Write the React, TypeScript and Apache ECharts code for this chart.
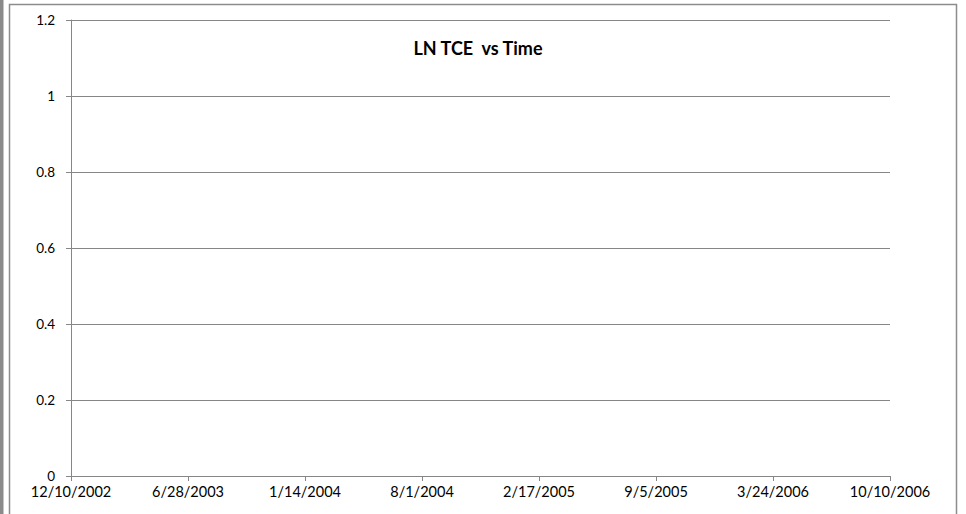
import React, { useEffect, useRef } from "react";
import * as echarts from "echarts";

const xLabels = [
  "12/10/2002",
  "6/28/2003",
  "1/14/2004",
  "8/1/2004",
  "2/17/2005",
  "9/5/2005",
  "3/24/2006",
  "10/10/2006",
];
const seriesValues: (number | null)[] = [null, null, null, null, null, null, null, null];
const yMin = 0;
const yMax = 1.2;
const yInterval = 0.2;
const titleText = "LN TCE  vs Time";

export default function App() {
  const ref = useRef<HTMLDivElement>(null);
  useEffect(() => {
    if (!ref.current) return;
    const chart = echarts.init(ref.current, undefined, { renderer: "svg" });
    const font = "Lato, 'Open Sans', 'Liberation Sans', sans-serif";
    chart.setOption({
      animation: false,
      backgroundColor: "#ffffff",
      title: {
        text: titleText,
        left: 473,
        top: 34,
        textAlign: "center",
        textStyle: { fontFamily: font, fontSize: 18, fontWeight: "bold", color: "#000" },
      },
      grid: { left: 71, right: 76, top: 20, bottom: 38 },
      xAxis: {
        type: "category",
        data: xLabels,
        boundaryGap: false,
        axisLine: { show: true, lineStyle: { color: "#868686", width: 1 } },
        axisTick: { show: true, length: 5, alignWithLabel: true, lineStyle: { color: "#868686" } },
        axisLabel: { interval: 0, margin: 8, fontFamily: font, fontSize: 14.5, color: "#000" },
        splitLine: { show: false },
      },
      yAxis: {
        type: "value",
        min: yMin,
        max: yMax,
        interval: yInterval,
        axisLine: { show: true, lineStyle: { color: "#868686", width: 1 } },
        axisTick: { show: true, length: 5, lineStyle: { color: "#868686" } },
        axisLabel: {
          margin: 16,
          fontFamily: font,
          fontSize: 13.5,
          color: "#000",
          formatter: (v: number) => String(Math.round(v * 10) / 10),
        },
        splitLine: { show: true, lineStyle: { color: "#868686", width: 1 } },
      },
      series: [
        {
          type: "line",
          data: seriesValues,
          showSymbol: false,
        },
      ],
      graphic: [
        {
          type: "rect",
          shape: { x: 0, y: 0, width: 3.5, height: 514 },
          style: { fill: "#8a8a8a" },
          silent: true,
        },
        {
          type: "rect",
          shape: { x: 9.5, y: 4.5, width: 947, height: 520 },
          style: { fill: "none", stroke: "#8c8c8c", lineWidth: 1.5 },
          silent: true,
        },
      ],
    });
    return () => chart.dispose();
  }, []);
  return (
    <div
      ref={ref}
      style={{ position: "fixed", left: 0, top: 0, width: 966, height: 514 }}
    />
  );
}
